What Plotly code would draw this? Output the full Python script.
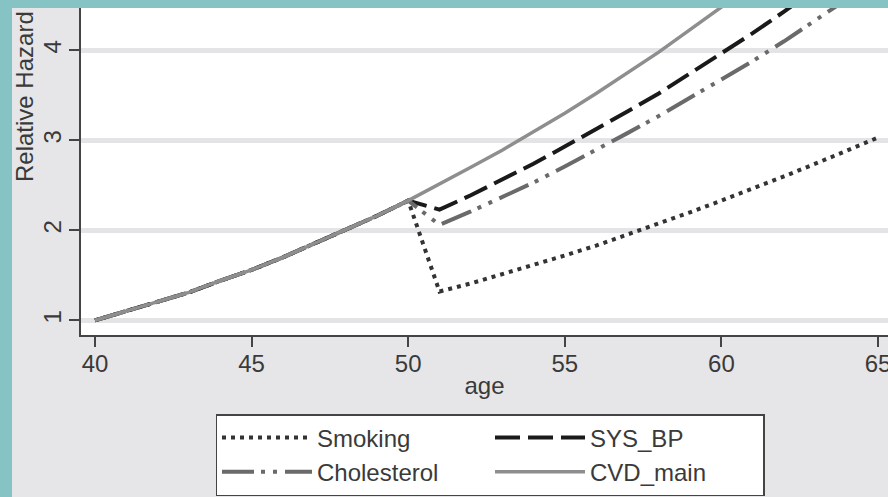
import plotly.graph_objects as go

# ---------------- data ----------------
age = [40, 41, 42, 43, 44, 45, 46, 47, 48, 49, 50, 51, 52,
       53, 54, 55, 56, 57, 58, 59, 60, 61, 62, 63, 64, 65]

cvd_main = [1.00, 1.10, 1.20, 1.31, 1.44, 1.56, 1.70, 1.85, 2.00, 2.16, 2.33, 2.51, 2.70,
            2.89, 3.09, 3.30, 3.52, 3.75, 3.98, 4.23, 4.47, 4.73, 5.00, 5.28, 5.56, 5.85]

smoking = [1.00, 1.10, 1.20, 1.31, 1.44, 1.56, 1.70, 1.85, 2.00, 2.16, 2.33, 1.32, 1.41,
           1.51, 1.61, 1.72, 1.83, 1.95, 2.07, 2.20, 2.33, 2.46, 2.60, 2.74, 2.88, 3.03]

sys_bp = [1.00, 1.10, 1.20, 1.31, 1.44, 1.56, 1.70, 1.85, 2.00, 2.16, 2.33, 2.23, 2.39,
          2.56, 2.74, 2.93, 3.12, 3.32, 3.52, 3.74, 3.96, 4.19, 4.43, 4.67, 4.92, 5.18]

cholesterol = [1.00, 1.10, 1.20, 1.31, 1.44, 1.56, 1.70, 1.85, 2.00, 2.16, 2.33, 2.06, 2.21,
               2.37, 2.53, 2.71, 2.89, 3.08, 3.27, 3.47, 3.67, 3.88, 4.10, 4.33, 4.56, 4.80]

series_names = ["Smoking", "SYS_BP", "Cholesterol", "CVD_main"]
x_ticks = [40, 45, 50, 55, 60, 65]
y_ticks = [1, 2, 3, 4]
x_title = "age"
y_title = "Relative Hazard"

# ---------------- layout geometry ----------------
W, H = 888, 497
L, R, T, B = 81, 0, 8, 162
PW, PH = W - L - R, H - T - B


def px_x(p):
    return (p - L) / PW


def px_y(p):
    return (H - B - p) / PH


FONT = "Liberation Sans, Arial, Helvetica, sans-serif"
FS = 24
TXT = "#3a3a3a"
BG = "#e6e6e8"
TEAL = "#86c3c4"

styles = {
    "Smoking": dict(color="#333333", width=4, dash="4px,5px"),
    "SYS_BP": dict(color="#1a1a1a", width=4, dash="25px,8px"),
    "Cholesterol": dict(color="#6a6a6a", width=4, dash="32px,7px,4px,8px,4px,8px"),
    "CVD_main": dict(color="#8e8e8e", width=3.5, dash="solid"),
}
values = {"Smoking": smoking, "SYS_BP": sys_bp,
          "Cholesterol": cholesterol, "CVD_main": cvd_main}

fig = go.Figure()
for name in series_names:
    fig.add_trace(go.Scatter(x=age, y=values[name], mode="lines", name=name,
                             line=styles[name]))

fig.update_layout(
    width=W, height=H,
    margin=dict(l=L, r=R, t=T, b=B, pad=0, autoexpand=False),
    paper_bgcolor=BG, plot_bgcolor="white",
    font=dict(family=FONT, size=FS, color=TXT),
    showlegend=True,
    legend=dict(
        orientation="h", x=px_x(490), xanchor="center", y=px_y(414), yanchor="top",
        bgcolor="white", bordercolor="#444444", borderwidth=1.5,
        font=dict(size=FS, color=TXT), entrywidth=168, itemwidth=90,
        tracegroupgap=0, traceorder="normal",
    ),
    xaxis=dict(
        range=[39.553, 65.32], tickmode="array", tickvals=x_ticks,
        ticks="outside", ticklen=10, tickwidth=1.5, tickcolor="#444444",
        showline=True, linecolor="#444444", linewidth=1.5,
        showgrid=False, zeroline=False, automargin=False,
        title=dict(text=x_title, standoff=2, font=dict(size=FS)),
        tickfont=dict(size=FS), ticklabelstandoff=-4, ticklabeloverflow="allow",
    ),
    yaxis=dict(
        range=[0.837, 4.47], tickmode="array", tickvals=y_ticks, tickangle=-90,
        ticks="outside", ticklen=10, tickwidth=1.5, tickcolor="#444444",
        showline=True, linecolor="#444444", linewidth=1.5,
        showgrid=True, gridcolor="#e4e4e6", gridwidth=5, zeroline=False,
        automargin=False, tickfont=dict(size=FS), ticklabelstandoff=-1,
        ticklabeloverflow="allow",
    ),
    annotations=[dict(
        text=y_title, textangle=-90, xref="paper", yref="paper",
        x=px_x(25), y=px_y(96), xanchor="center", yanchor="middle",
        showarrow=False, font=dict(size=FS, color=TXT),
    )],
    shapes=[
        dict(type="rect", xref="paper", yref="paper", layer="above",
             x0=px_x(-2), x1=px_x(12), y0=px_y(H + 2), y1=px_y(-2),
             fillcolor=TEAL, line=dict(width=0)),
        dict(type="rect", xref="paper", yref="paper", layer="above",
             x0=px_x(-2), x1=px_x(W + 2), y0=px_y(8), y1=px_y(-2),
             fillcolor=TEAL, line=dict(width=0)),
    ],
)

fig.write_html(
    "out.html",
    config={"displayModeBar": False},
    post_script="document.body.style.margin='0';document.body.style.overflow='hidden';",
)
